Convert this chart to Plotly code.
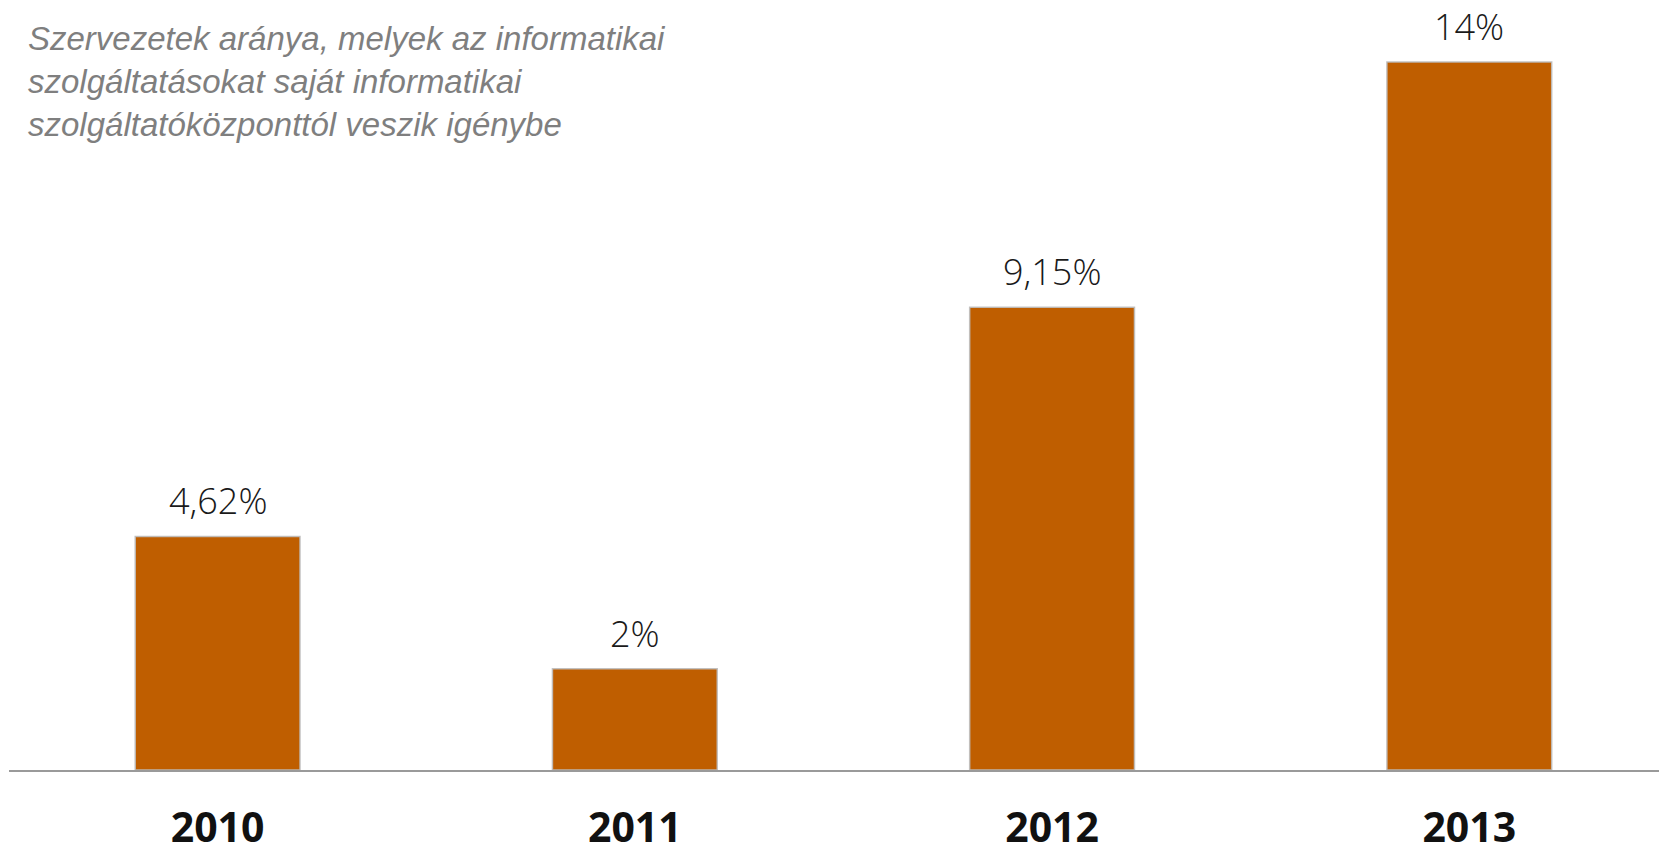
import plotly.graph_objects as go

years = ["2010", "2011", "2012", "2013"]
values = [4.62, 2.0, 9.15, 14.0]
value_labels = ["4,62%", "2%", "9,15%", "14%"]
title_lines = [
    "Szervezetek aránya, melyek az informatikai",
    "szolgáltatásokat saját informatikai",
    "szolgáltatóközponttól veszik igénybe",
]

BAR_COLOR = "#BF5E00"

fig = go.Figure()
fig.add_trace(go.Bar(
    x=years,
    y=values,
    marker=dict(color=BAR_COLOR, line=dict(color="rgba(190,190,190,0.9)", width=1.5)),
    width=0.395,
    hoverinfo="skip",
))

for i, (v, lab) in enumerate(zip(values, value_labels)):
    fig.add_annotation(
        x=i, y=v, text=lab, showarrow=False,
        xref="x", yref="y", yanchor="bottom", yshift=9,
        font=dict(family="Open Sans", size=36, color="#1a1a1a", weight=300),
    )

fig.add_annotation(
    xref="paper", yref="paper", x=16.5 / 1666, y=1.0,
    xanchor="left", yanchor="top", align="left",
    text="<br>".join(title_lines), showarrow=False,
    font=dict(family="Liberation Sans", size=33, color="#7f7f7f", style="italic"),
    yshift=-10,
)

fig.update_layout(
    width=1667, height=834,
    margin=dict(l=1, r=0, t=0, b=72),
    paper_bgcolor="white", plot_bgcolor="white",
    showlegend=False,
    xaxis=dict(
        type="category",
        range=[-0.5, 3.493],
        automargin=False,
        showgrid=False, zeroline=False,
        showline=True, linecolor="#9a9a9a", linewidth=2,
        ticks="", ticklabelstandoff=21,
        tickfont=dict(family="Open Sans", size=41, color="#111111", weight=700),
    ),
    yaxis=dict(
        range=[0, 15.07], visible=False, showgrid=False, zeroline=False,
        automargin=False,
    ),
)

fig.write_html(
    "out.html",
    post_script="document.body.style.overflow='hidden';document.documentElement.style.overflow='hidden';",
)
